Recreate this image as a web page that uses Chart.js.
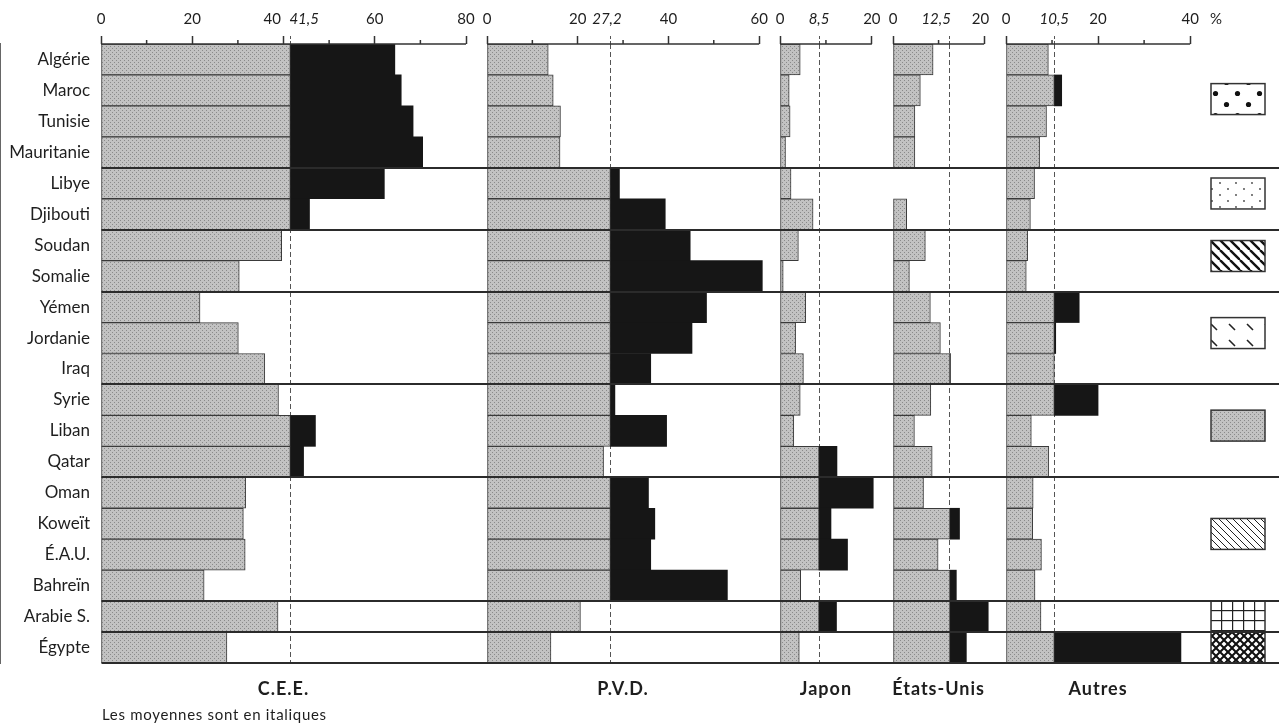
<!DOCTYPE html>
<html lang="fr">
<head>
<meta charset="UTF-8">
<title>Répartition des échanges par partenaire</title>
<script src="https://cdn.jsdelivr.net/npm/chart.js"></script>
<style>
  html, body { margin: 0; padding: 0; background: #fff; }
  #wrap { position: relative; width: 1279px; height: 726px; }
</style>
</head>
<body>
<div id="wrap"><canvas id="chart"></canvas></div>
<script>
// ---- données (en %) ----
const countries = ['Algérie', 'Maroc', 'Tunisie', 'Mauritanie', 'Libye', 'Djibouti', 'Soudan', 'Somalie',
  'Yémen', 'Jordanie', 'Iraq', 'Syrie', 'Liban', 'Qatar', 'Oman', 'Koweït', 'É.A.U.', 'Bahreïn',
  'Arabie S.', 'Égypte'];
const groups = [0, 0, 0, 0, 1, 1, 2, 2, 3, 3, 3, 4, 4, 4, 5, 5, 5, 5, 6, 7];
const panelNames = ['C.E.E.', 'P.V.D.', 'Japon', 'États-Unis', 'Autres'];

const cee = [64.4, 65.8, 68.4, 70.5, 62.1, 45.7, 39.6, 30.3, 21.7, 30.1, 35.9, 38.9, 47.0, 44.4, 31.7, 31.2, 31.6, 22.6, 38.8, 27.6];
const pvd = [13.5, 14.6, 16.2, 16.1, 29.2, 39.3, 44.8, 60.7, 48.4, 45.2, 36.1, 28.2, 39.6, 25.7, 35.6, 37.0, 36.1, 53.0, 20.6, 14.1];
const japon = [4.4, 2.0, 2.2, 1.2, 2.4, 7.2, 4.0, 0.7, 5.6, 3.4, 5.1, 4.4, 3.0, 12.4, 20.3, 11.1, 14.7, 4.5, 12.3, 4.2];
const etatsUnis = [8.8, 6.0, 4.8, 4.8, 0, 3.0, 7.1, 3.6, 8.2, 10.4, 12.6, 8.3, 4.7, 8.6, 6.7, 14.6, 9.9, 13.9, 20.9, 16.1];
const autres = [9.2, 12.1, 8.8, 7.3, 6.2, 5.3, 4.7, 4.4, 15.9, 10.8, 10.5, 20.0, 5.5, 9.3, 5.9, 5.8, 7.7, 6.3, 7.6, 38.0];

const averages = [41.5, 27.2, 8.5, 12.5, 10.5];
const majorTicks = [[0, 20, 40, 60, 80], [0, 20, 40, 60], [0, 20], [0, 20], [0, 20, 40]];
const minorTicks = [[10, 30, 50, 70], [10, 30, 50], [10], [10], [10, 30]];
const unitLabel = '%';
const footnote = 'Les moyennes sont en italiques';

// ---- mise en page ----
const panelLayout = [
  { weight: 386, max: 84.6 },
  { weight: 293, max: 64.6 },
  { weight: 113, max: 24.6 },
  { weight: 113, max: 24.8 },
  { weight: 273, max: 59.3 }
];
const unitTickAt = 45.6;            // place du "%" sur la dernière échelle
const labelShift = [{ 40: -3, 41.5: 4 }, { 27.2: -1 }, {}, { 12.5: -4, 20: -1 }, {}]; // en espaces demi-cadratin
const keyRows = [1.28, 4.33, 6.35, 8.84, 11.83, 15.33, 18, 19];
const keyPatterns = ['bigdots', 'smalldots', 'thickdiag', 'dashdiag', 'gray', 'thindiag', 'grid', 'crosshatch'];

const FONT = 'Lato';
const INK = '#1e1e1e';

function tile(w, h, draw) {
  const c = document.createElement('canvas');
  c.width = w; c.height = h;
  const g = c.getContext('2d');
  g.fillStyle = '#fff';
  g.fillRect(0, 0, w, h);
  draw(g, w, h);
  return g.createPattern(c, 'repeat');
}

const grayFill = tile(4, 4, g => {
  g.fillStyle = '#c2c2c2'; g.fillRect(0, 0, 4, 4);
  g.fillStyle = '#8a8a8a'; g.fillRect(0, 0, 1, 1); g.fillRect(2, 2, 1, 1);
});

const patterns = {
  gray: grayFill,
  bigdots: tile(22, 22, g => {
    g.fillStyle = '#111';
    [[5.5, 5.5], [16.5, 16.5]].forEach(([x, y]) => { g.beginPath(); g.arc(x, y, 2.6, 0, Math.PI * 2); g.fill(); });
  }),
  smalldots: tile(16, 12, g => {
    g.fillStyle = '#444';
    [[4, 3], [12, 9]].forEach(([x, y]) => { g.beginPath(); g.arc(x, y, 0.9, 0, Math.PI * 2); g.fill(); });
  }),
  thickdiag: tile(10, 10, g => {
    g.strokeStyle = '#111'; g.lineWidth = 2.4;
    [-10, 0, 10].forEach(o => { g.beginPath(); g.moveTo(o, 0); g.lineTo(o + 10, 10); g.stroke(); });
  }),
  dashdiag: tile(18, 16, g => {
    g.strokeStyle = '#222'; g.lineWidth = 1.6;
    g.beginPath(); g.moveTo(5, 4); g.lineTo(11, 10); g.stroke();
  }),
  thindiag: tile(7, 7, g => {
    g.strokeStyle = '#222'; g.lineWidth = 1;
    [-7, 0, 7].forEach(o => { g.beginPath(); g.moveTo(o, 0); g.lineTo(o + 7, 7); g.stroke(); });
  }),
  grid: tile(11, 10, g => {
    g.fillStyle = '#222'; g.fillRect(0, 0, 1.2, 10); g.fillRect(0, 0, 11, 1.2);
  }),
  crosshatch: tile(8, 8, g => {
    g.strokeStyle = '#111'; g.lineWidth = 2;
    [-8, 0, 8].forEach(o => {
      g.beginPath(); g.moveTo(o, 0); g.lineTo(o + 8, 8); g.stroke();
      g.beginPath(); g.moveTo(o, 8); g.lineTo(o + 8, 0); g.stroke();
    });
  })
};

const series = [cee, pvd, japon, etatsUnis, autres];
const datasets = [];
series.forEach((vals, k) => {
  const avg = averages[k];
  const common = {
    xAxisID: 'x' + k, yAxisID: 'y', grouped: false,
    barPercentage: 1, categoryPercentage: 1, borderSkipped: false
  };
  datasets.push(Object.assign({
    label: panelNames[k] + ' jusqu\'à la moyenne',
    data: vals.map(v => [0, Math.min(v, avg)]),
    backgroundColor: grayFill, borderColor: '#3a3a3a', borderWidth: 1
  }, common));
  datasets.push(Object.assign({
    label: panelNames[k] + ' au-dessus de la moyenne',
    data: vals.map(v => v > avg ? [avg, v] : null),
    backgroundColor: '#161616', borderWidth: 0
  }, common));
});

function isSeparator(i) {
  return i === undefined || (i > 0 && groups[i] !== groups[i - 1]);
}

const scales = {
  y: {
    type: 'category', offset: true,
    afterFit: s => { s.width = 101; },
    border: { display: true, color: '#333', width: 1.5 },
    grid: {
      offset: true, drawTicks: false, z: 1, lineWidth: 2,
      color: c => isSeparator(c.index) ? '#2b2b2b' : 'transparent'
    },
    ticks: { padding: 11, color: INK, autoSkip: false, font: { family: FONT, size: 17 } }
  }
};

panelLayout.forEach((p, k) => {
  const avg = averages[k];
  const values = majorTicks[k].concat([avg]);
  if (k === panelLayout.length - 1) values.push(unitTickAt);
  values.sort((a, b) => a - b);
  const isAvg = c => c.tick && c.tick.value === avg;
  const isUnit = c => c.tick && k === panelLayout.length - 1 && c.tick.value === unitTickAt;
  scales['x' + k] = {
    type: 'linear', axis: 'x', position: 'top',
    stack: 'panels', stackWeight: p.weight,
    weight: panelLayout.length - k,      // C.E.E. à gauche
    min: 0, max: p.max,
    afterBuildTicks: s => { s.ticks = values.map(v => ({ value: v })); },
    afterFit: s => { s.height = 44; s.paddingLeft = 0; s.paddingRight = 0; },
    border: { display: false, dash: [5, 3] },
    grid: {
      lineWidth: 1, tickLength: 8,
      color: c => isAvg(c) ? '#555' : 'transparent',
      tickColor: c => isUnit(c) ? 'transparent' : (isAvg(c) ? '#555' : '#333'),
      tickWidth: c => isAvg(c) ? 1 : 1.5,
      tickBorderDash: c => isAvg(c) ? [3, 2] : []
    },
    ticks: {
      autoSkip: false, maxRotation: 0, minRotation: 0, padding: 8, color: INK,
      font: c => ({ family: FONT, size: 15, style: isAvg(c) ? 'italic' : 'normal' }),
      callback: v => {
        let s = v === avg ? String(v).replace('.', ',') : (v === unitTickAt && k === 4 ? unitLabel : String(v));
        const n = labelShift[k][v] || 0;
        if (n > 0) s = '\u2002'.repeat(n) + s;
        if (n < 0) s = s + '\u2002'.repeat(-n);
        return s;
      }
    }
  };
});

// trait d'axe, petites graduations, noms des partenaires, note
const panelDecor = {
  id: 'panelDecor',
  afterDraw(chart) {
    const { ctx, chartArea } = chart;
    ctx.save();
    panelLayout.forEach((p, k) => {
      const s = chart.scales['x' + k];
      const t = majorTicks[k];
      const y = s.bottom;
      ctx.strokeStyle = '#333';
      ctx.lineWidth = 1.5;
      ctx.beginPath();
      ctx.moveTo(s.getPixelForValue(0), y);
      ctx.lineTo(s.getPixelForValue(t[t.length - 1]), y);
      minorTicks[k].forEach(v => {
        const x = s.getPixelForValue(v);
        ctx.moveTo(x, y);
        ctx.lineTo(x, y - 4);
      });
      ctx.stroke();

      ctx.fillStyle = INK;
      ctx.font = 'bold 18px ' + FONT;
      ctx.letterSpacing = '1px';
      ctx.textAlign = 'center';
      ctx.textBaseline = 'middle';
      const cx = (s.getPixelForValue(0) + s.getPixelForValue(t[t.length - 1])) / 2;
      ctx.fillText(panelNames[k], cx, chartArea.bottom + 26);
    });
    ctx.font = '15px ' + FONT;
    ctx.letterSpacing = '0.7px';
    ctx.textAlign = 'left';
    ctx.fillText(footnote, chartArea.left + 1, chartArea.bottom + 52);
    ctx.restore();
  }
};

// légende des groupes de pays (trames)
const groupKeys = {
  id: 'groupKeys',
  afterDatasetsDraw(chart) {
    const { ctx, chartArea } = chart;
    const ys = chart.scales.y;
    const h = ys.getPixelForValue(1) - ys.getPixelForValue(0);
    const x0 = chartArea.right - 68, w = 54;
    ctx.save();
    keyRows.forEach((r, i) => {
      const cy = ys.getPixelForValue(r);
      ctx.fillStyle = patterns[keyPatterns[i]];
      ctx.fillRect(x0, cy - h / 2, w, h);
      ctx.strokeStyle = '#333';
      ctx.lineWidth = 1.5;
      ctx.strokeRect(x0, cy - h / 2, w, h);
    });
    ctx.restore();
  }
};

new Chart(document.getElementById('chart'), {
  type: 'bar',
  data: { labels: countries, datasets: datasets },
  options: {
    indexAxis: 'y',
    responsive: true,
    maintainAspectRatio: false,
    animation: false,
    layout: { padding: { top: 0, left: 0, right: 0, bottom: 63 } },
    plugins: { legend: { display: false }, tooltip: { enabled: false } },
    scales: scales
  },
  plugins: [groupKeys, panelDecor]
});
</script>
</body>
</html>
